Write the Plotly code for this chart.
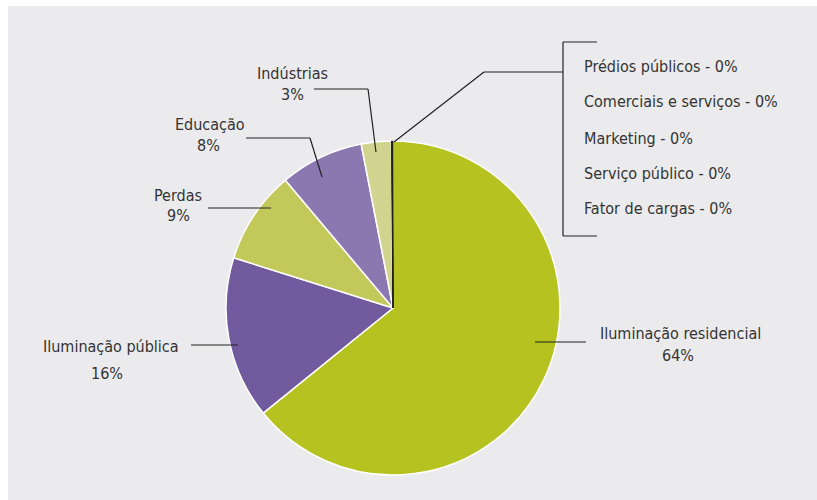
import plotly.graph_objects as go

W, H = 817, 500

labels = ["Iluminação residencial", "Iluminação pública", "Perdas", "Educação", "Indústrias",
          "Prédios públicos", "Comerciais e serviços", "Marketing", "Serviço público", "Fator de cargas"]
values = [64.2, 15.7, 9.0, 8.1, 2.9, 0.03, 0.03, 0.03, 0.03, 0.03]
pct_text = ["64%", "16%", "9%", "8%", "3%", "0%", "0%", "0%", "0%", "0%"]
colors = ["#b5c21f", "#725a9e", "#c2c85a", "#8c78b0", "#d0d48e",
          "#222222", "#222222", "#222222", "#222222", "#222222"]
line_colors = ["#ffffff"] * 5 + ["#222222"] * 5
line_widths = [1.5] * 5 + [0.6] * 5

FONT = "Liberation Sans Narrow, DejaVu Sans Condensed, sans-serif"
TXT = "#333333"


def px(x, y):
    return x / W, 1 - y / H


fig = go.Figure()
x0, y0 = px(226, 0)
x1, _ = px(560, 0)
_, yt = px(0, 141)
_, yb = px(0, 475)
fig.add_trace(go.Pie(
    labels=labels, values=values, sort=False, direction="clockwise", rotation=0,
    textinfo="none", hoverinfo="label+percent",
    marker=dict(colors=colors, line=dict(color=line_colors, width=line_widths)),
    domain=dict(x=[x0, x1], y=[yb, yt]), showlegend=False,
))

shapes = []
# background panel
bx0, by0 = px(8, 6)
shapes.append(dict(type="rect", xref="paper", yref="paper", x0=bx0, x1=1.05, y0=-0.05, y1=by0,
                   fillcolor="#ebebed", line=dict(width=0), layer="below"))


def seg(pts):
    for (a, b), (c, d) in zip(pts[:-1], pts[1:]):
        p, q = px(a, b)
        r, s = px(c, d)
        shapes.append(dict(type="line", xref="paper", yref="paper", x0=p, y0=q, x1=r, y1=s,
                           line=dict(color="#222222", width=1.2)))


seg([(191, 345), (238, 345)])
seg([(208, 208), (271, 208)])
seg([(246, 138), (310, 138), (322, 177)])
seg([(314, 89), (368, 89), (376, 152)])
seg([(394, 142), (484, 72), (563, 72)])
seg([(597, 42), (563, 42), (563, 236), (597, 236)])
seg([(535, 342), (586, 342)])

annotations = []


def lab(x, y, text, align="center", xanchor="center"):
    ax, ay = px(x, y)
    annotations.append(dict(x=ax, y=ay, xref="paper", yref="paper", text=text, showarrow=False,
                            xanchor=xanchor, yanchor="middle", align=align,
                            font=dict(family=FONT, size=16, color=TXT)))


lab(680, 333, labels[0])
lab(678, 355, pct_text[0])
lab(111, 346, labels[1])
lab(107, 373, pct_text[1])
lab(178, 195, labels[2])
lab(178, 216, pct_text[2])
lab(210, 124, labels[3])
lab(208, 145, pct_text[3])
lab(292, 73, labels[4])
lab(292, 95, pct_text[4])
for i, yy in zip(range(5, 10), [66, 102, 138, 173, 209]):
    lab(582, yy, f"{labels[i]} - {pct_text[i]}", align="left", xanchor="left")

fig.update_layout(width=W, height=H, margin=dict(l=0, r=0, t=0, b=0),
                  paper_bgcolor="#ffffff", plot_bgcolor="#ffffff",
                  shapes=shapes, annotations=annotations)
fig.write_html("out.html", config={"displayModeBar": False},
               post_script="document.body.style.margin='0';document.body.style.overflow='hidden';")
